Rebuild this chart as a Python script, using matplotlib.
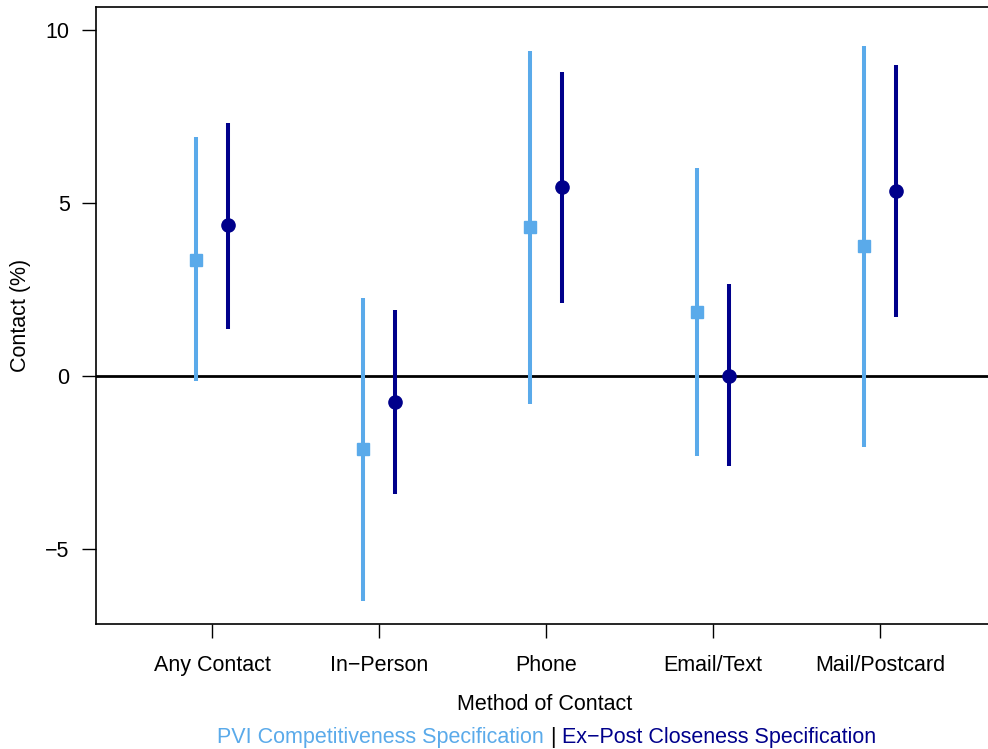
import numpy as np
from matplotlib import pyplot as plt

plt.rcParams['font.family'] = ['Liberation Sans', 'DejaVu Sans']

methods = ['Any Contact', 'In\u2212Person', 'Phone', 'Email/Text', 'Mail/Postcard']

# PVI competitiveness specification
pvi_est = np.array([3.35, -2.1, 4.3, 1.85, 3.75])
pvi_lo = np.array([-0.15, -6.5, -0.8, -2.3, -2.05])
pvi_hi = np.array([6.9, 2.25, 9.4, 6.0, 9.55])

# Ex-post closeness specification
exp_est = np.array([4.35, -0.75, 5.45, 0.0, 5.35])
exp_lo = np.array([1.35, -3.4, 2.1, -2.6, 1.7])
exp_hi = np.array([7.3, 1.9, 8.8, 2.65, 9.0])

light = '#5aaaea'
dark = '#00008b'
fs = 15.5

fig = plt.figure(figsize=(9.88, 7.49), dpi=100)
ax = fig.add_axes([96/988, 1-624/749, 1.005 - 96/988, (624-7)/749])

x = np.arange(1, len(methods) + 1)
off = 0.095

ax.axhline(0, color='black', lw=2, zorder=1)
ax.vlines(x - off, pvi_lo, pvi_hi, color=light, lw=2.9, zorder=2)
ax.plot(x - off, pvi_est, 's', color=light, ms=8.5, zorder=3)
ax.vlines(x + off, exp_lo, exp_hi, color=dark, lw=2.9, zorder=2)
ax.plot(x + off, exp_est, 'o', color=dark, ms=9.5, zorder=3)

ax.set_xlim(0.305, 0.305 + (1.005*988 - 96)/167)
ax.set_ylim(-(624-376)/34.6, (376-7)/34.6)
ax.set_xticks(x)
ax.set_xticklabels(methods)
ax.set_yticks([-5, 0, 5, 10])
ax.tick_params(labelsize=fs, length=10, width=1)
ax.tick_params(axis='x', pad=12.5)
ax.tick_params(axis='y', pad=9)
ax.spines['right'].set_visible(False)
for s in ['left', 'bottom', 'top']:
    ax.spines[s].set_linewidth(1.2)

ax.set_xlabel('Method of Contact', fontsize=fs, labelpad=12.5)
ax.set_ylabel('Contact (%)', fontsize=fs, labelpad=10)

fig.text(544/988, 1-737/749, 'PVI Competitiveness Specification', color=light,
         fontsize=fs, ha='right', va='center')
fig.text(553/988, 1-737/749, '|', color='black', fontsize=fs, ha='center', va='center')
fig.text(562/988, 1-737/749, 'Ex\u2212Post Closeness Specification', color=dark,
         fontsize=fs, ha='left', va='center')

fig.savefig('out.png', dpi=100)
